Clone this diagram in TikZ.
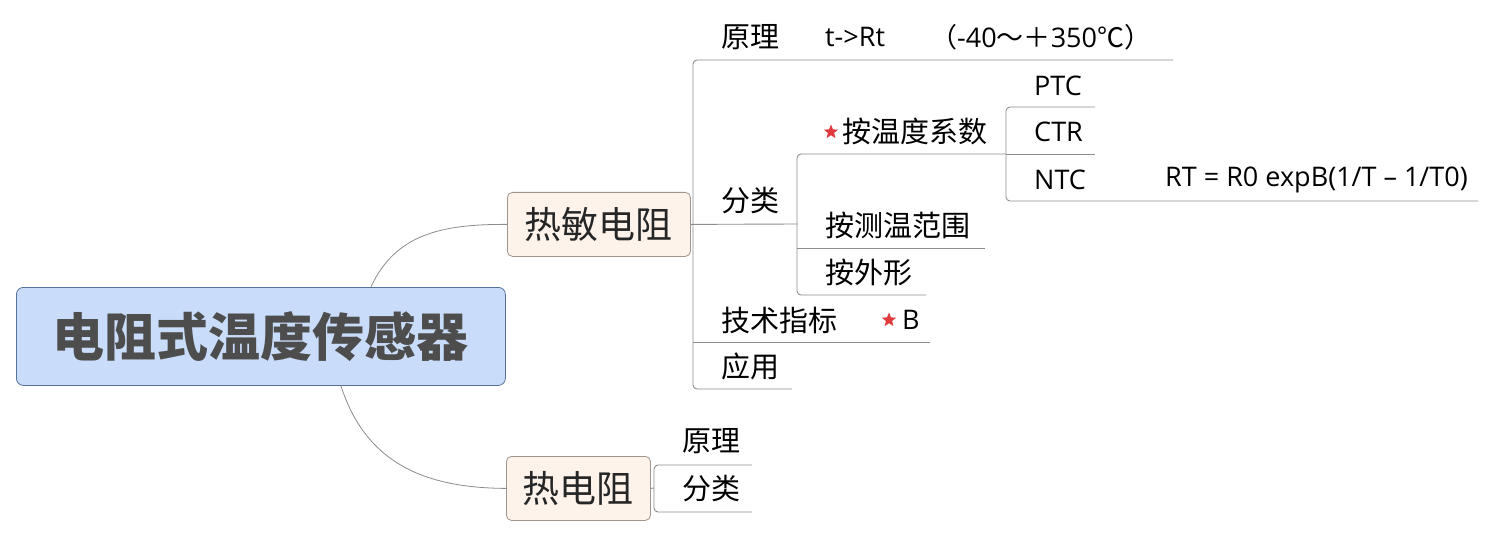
\documentclass[tikz,border=0pt]{standalone}
\usepackage{fontspec}
\setmainfont{Open Sans}
\newfontfamily\cjk{Noto Sans CJK SC}
\usetikzlibrary{shapes.geometric,calc}
\definecolor{rootfill}{HTML}{C9DCFA}
\definecolor{rootdraw}{HTML}{55729A}
\definecolor{subfill}{HTML}{FDF3EB}
\definecolor{subdraw}{HTML}{A0958C}
\definecolor{linegray}{HTML}{8C8C8C}
\definecolor{starred}{HTML}{E0393E}
\definecolor{titlegray}{HTML}{4D4D4D}
\begin{document}
\begin{tikzpicture}[x=1pt,y=-1pt,
  rootbox/.style={draw=rootdraw, fill=rootfill, rounded corners=7pt, line width=0.8pt,
    minimum width=489pt, minimum height=98pt, inner sep=0pt, text=titlegray,
    font=\cjk\bfseries\fontsize{52}{56}\selectfont},
  subbox/.style={draw=subdraw, fill=subfill, rounded corners=5pt, line width=0.8pt,
    minimum height=64pt, inner sep=0pt, text=black!85,
    font=\cjk\fontsize{37}{40}\selectfont},
  topic/.style={anchor=west, inner sep=0pt, font=\cjk\fontsize{29}{31}\selectfont},
  latin/.style={anchor=west, inner sep=0pt, font=\fontsize{27}{30}\selectfont},
  branch/.style={draw=linegray, line width=0.9pt, rounded corners=4pt},
  curve/.style={draw=linegray, line width=0.8pt},
  starmark/.style={star, star points=5, star point ratio=2.3, fill=starred, draw=none, inner sep=0pt, minimum size=15pt}
]
\useasboundingbox (0,0) rectangle (1495,537);

% main boxes
\node[rootbox, anchor=north west] (root) at (16,287) {电阻式温度传感器};
\node[subbox, anchor=north west, minimum width=183pt] (sensor) at (507,192) {热敏电阻};
\node[subbox, anchor=north west, minimum width=144pt] (thermal) at (506,456) {热电阻};

% curves from root
\draw[curve] ($(root.north)+(110,0)$) .. controls (395,235) and (440,224) .. (sensor.west);
\draw[curve] ($(root.south)+(80,0)$) .. controls (365,460) and (420,488) .. (thermal.west);

% topics under 热敏电阻
\node[topic] (yl) at (721,37) {原理};
\node[latin] (tr) at (825,37) {t->Rt};
\node[latin] (rg) at (930,37) {{\cjk （}-40{\cjk ～＋}350{\cjk ℃）}};
\node[topic] (fl) at (721,201) {分类};
\node[starmark] (s1) at (831,132) {};
\node[topic] (wd) at (842,131) {按温度系数};
\node[latin] (ptc) at (1034,86) {PTC};
\node[latin] (ctr) at (1034,132) {CTR};
\node[latin] (ntc) at (1034,180) {NTC};
\node[latin] (fm) at (1165,180) {RT = R0 expB(1/T – 1/T0)};
\node[topic] (cw) at (825,225) {按测温范围};
\node[topic] (wx) at (825,272) {按外形};
\node[topic] (js) at (721,320) {技术指标};
\node[starmark] (s2) at (889,320) {};
\node[latin] (bb) at (902,320) {B};
\node[topic] (yy) at (721,366) {应用};

% topics under 热电阻
\node[topic] (yl2) at (682,441) {原理};
\node[topic] (fl2) at (682,489) {分类};

% line end coordinates
\coordinate (t1) at (693,60);
\coordinate (t2) at (693,389);
\coordinate (u1) at (1173,60);
\coordinate (u4) at (792,389);
\coordinate (u3a) at (693,342);
\coordinate (u3) at (930,342);
\coordinate (f0) at (797,224);
\coordinate (f1) at (797,154);
\coordinate (f2) at (797,295);
\coordinate (w1) at (1006,154);
\coordinate (u5) at (926,295);
\coordinate (u6a) at (797,248);
\coordinate (u6) at (985,248);
\coordinate (n1) at (1006,107);
\coordinate (n2) at (1006,201);
\coordinate (up) at (1095,107);
\coordinate (uc) at (1095,154);
\coordinate (un) at (1478,201);
\coordinate (h1) at (654,465);
\coordinate (h2) at (654,512);
\coordinate (h0) at (654,488);
\coordinate (hu1) at (752,465);
\coordinate (hu2) at (752,512);

% branches of 热敏电阻
\draw[branch] (sensor.east) -- (f0);
\draw[branch] (u1) -- (t1) -- (t2) -- (u4);
\draw[branch] (u3a) -- (u3);
\draw[branch] (w1) -- (f1) -- (f2) -- (u5);
\draw[branch] (u6a) -- (u6);
\draw[branch] (up) -- (n1) -- (n2) -- (un);
\draw[branch] (w1) -- (uc);

% branches of 热电阻
\draw[branch] (thermal.east) -- (h0);
\draw[branch] (hu1) -- (h1) -- (h2) -- (hu2);
\end{tikzpicture}
\end{document}
